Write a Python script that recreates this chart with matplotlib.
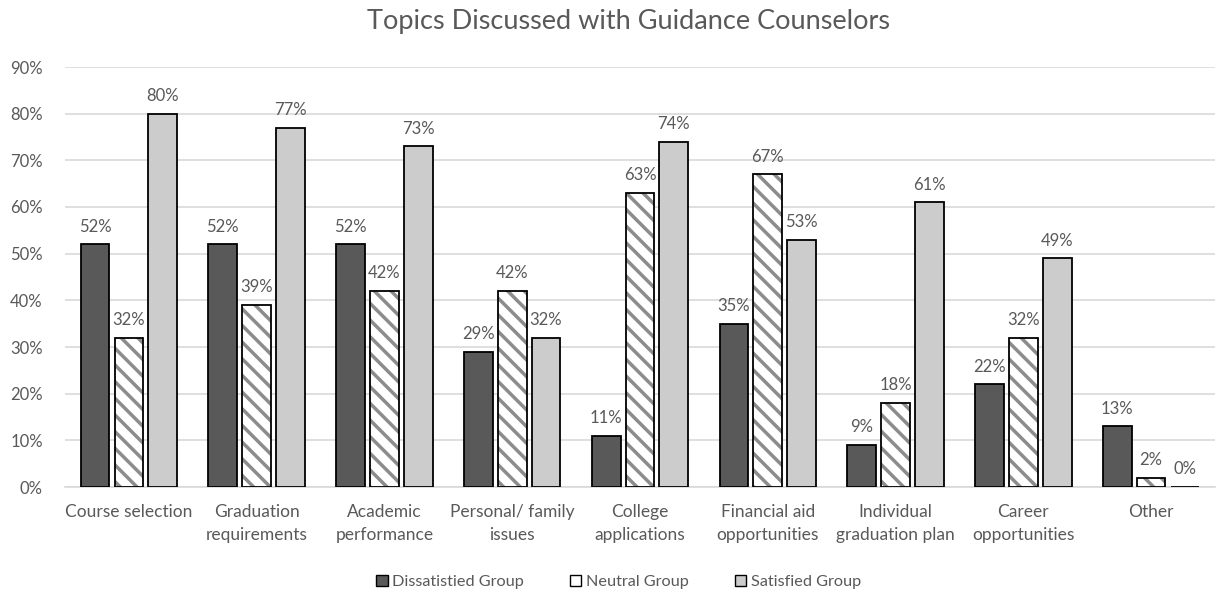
import numpy as np
import matplotlib
matplotlib.use("Agg")
import matplotlib.pyplot as plt
from matplotlib.patches import Patch

plt.rcParams['font.family'] = ['Lato', 'DejaVu Sans']
plt.rcParams['hatch.linewidth'] = 2.5

categories = ["Course selection", "Graduation\nrequirements", "Academic\nperformance",
              "Personal/ family\nissues", "College\napplications", "Financial aid\nopportunities",
              "Individual\ngraduation plan", "Career\nopportunities", "Other"]
dissatisfied = [52, 52, 52, 29, 11, 35, 9, 22, 13]
neutral = [32, 39, 42, 42, 63, 67, 18, 32, 2]
satisfied = [80, 77, 73, 32, 74, 53, 61, 49, 0]
series_names = ["Dissatistied Group", "Neutral Group", "Satisfied Group"]

txt = "#595959"
fig = plt.figure(figsize=(12.25, 5.96), dpi=100)
ax = fig.add_axes([65/1225, 1-487/596, 1150/1225, 420/596])

x = np.arange(len(categories))
w = 0.225
off = 0.265
d = np.array(dissatisfied) / 100
n = np.array(neutral) / 100
s = np.array(satisfied) / 100

ax.bar(x - off, d, w, color="#595959", edgecolor="black", linewidth=1.3, zorder=3)
# hatch layer (gray lines) then black outline on top
ax.bar(x, n, w, color="white", edgecolor="#8c8c8c", hatch="\\\\", linewidth=0, zorder=3)
ax.bar(x, n, w, fill=False, edgecolor="black", linewidth=1.3, zorder=4)
ax.bar(x + off, s, w, color="#cccccc", edgecolor="black", linewidth=1.3, zorder=3)

for xs, vals in [(x - off, dissatisfied), (x, neutral), (x + off, satisfied)]:
    for xi, v in zip(xs, vals):
        ax.annotate(f"{v}%", (xi, v / 100), xytext=(0, 7), textcoords="offset points",
                    ha="center", va="bottom", fontsize=12, color=txt)

ax.set_xlim(-0.5, len(categories) - 0.5)
ax.set_ylim(0, 0.9)
ax.set_yticks(np.arange(0, 0.91, 0.1))
ax.set_yticklabels([f"{int(round(t*100))}%" for t in np.arange(0, 0.91, 0.1)], fontsize=12)
ax.set_xticks(x)
ax.set_xticklabels(categories, linespacing=1.55, fontsize=12.5)
ax.tick_params(axis="both", length=0, colors=txt)
ax.tick_params(axis="x", pad=12)
ax.tick_params(axis="y", pad=16)
ax.grid(axis="y", color="#d9d9d9", linewidth=1.2, zorder=0)
for sp in ["top", "right", "left"]:
    ax.spines[sp].set_visible(False)
ax.spines["bottom"].set_color("#d9d9d9")
ax.spines["bottom"].set_linewidth(1.2)

fig.suptitle("Topics Discussed with Guidance Counselors", x=0.513, y=0.985, fontsize=19.5, color=txt)

handles = [Patch(facecolor="#595959", edgecolor="black"),
           Patch(facecolor="white", edgecolor="black"),
           Patch(facecolor="#cccccc", edgecolor="black")]
leg = fig.legend(handles, series_names, loc="center", bbox_to_anchor=(0.505, 1-582/596), ncol=3,
                 frameon=False, fontsize=11.7, handlelength=0.7, handleheight=0.7,
                 handletextpad=0.3, columnspacing=2.8)
for t in leg.get_texts():
    t.set_color(txt)

fig.savefig("out.png", dpi=100)
